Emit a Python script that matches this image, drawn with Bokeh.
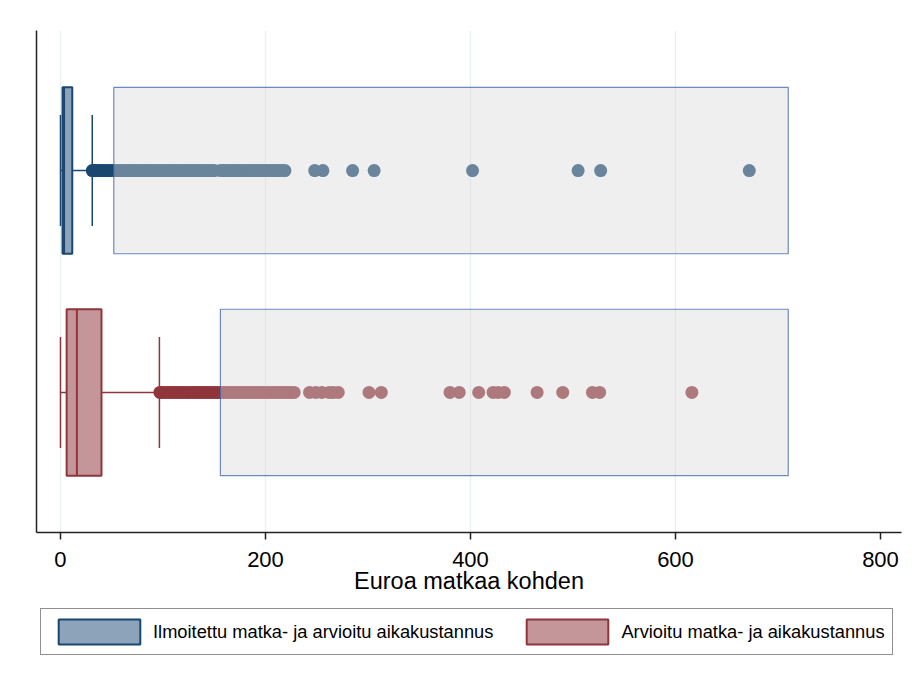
from bokeh.plotting import figure
from bokeh.models import Range1d, FixedTicker, Legend, LegendItem, ColumnDataSource
from bokeh.layouts import column
from bokeh.embed import file_html
from bokeh.resources import INLINE

# ---------------- data ----------------
groups = ["Ilmoitettu matka- ja arvioitu aikakustannus", "Arvioitu matka- ja aikakustannus"]
group_pos = [1, 0]
lower_whisker = [0, 0]
q1 = [2, 6]
median = [3.5, 16]
q3 = [11.5, 40]
upper_whisker = [31, 96.5]

outliers_top = [31, 33, 35, 38, 40, 43, 46, 49, 52, 55, 58, 61, 64, 67, 70, 73, 76, 79,
                82, 85, 88, 91, 94, 97, 100, 103, 106, 109, 112, 115, 118, 121, 124, 127,
                130, 133, 136, 139, 142, 145, 148, 150, 156, 159, 162, 165, 168, 171, 174,
                177, 180, 183, 186, 189, 192, 195, 198, 201, 204, 207, 210, 213, 216, 219,
                248, 256, 285, 306, 402, 505, 527, 672]
outliers_bottom = [97, 99, 102, 105, 108, 111, 114, 117, 120, 123, 126, 129, 132, 135, 138,
                   141, 144, 147, 150, 153, 156, 159, 162, 165, 168, 171, 174, 177, 180, 183,
                   186, 189, 192, 195, 198, 201, 204, 207, 210, 213, 216, 219, 222, 225, 228,
                   243, 249, 255, 262, 266, 271, 301, 313, 380, 389, 408, 422, 427, 433,
                   465, 490, 519, 526, 616]

highlight_left = [52, 156]
highlight_right = [710, 710]

x_ticks = [0, 200, 400, 600, 800]
grid_ticks = [0, 200, 400, 600]
x_title = "Euroa matkaa kohden"

dark = ["#1a476f", "#90353b"]
light = ["#8da3ba", "#c4969a"]

FONT = "Liberation Sans"
BOX_H = 0.75
CAP_H = 0.5

p = figure(frame_width=865, frame_height=502, output_backend="svg", toolbar_location=None,
           x_range=Range1d(-23.4, 820.5), y_range=Range1d(-0.631, 1.631),
           min_border_left=36, min_border_right=2, min_border_top=30, min_border_bottom=70)
p.outline_line_color = None
p.background_fill_color = "white"
p.border_fill_color = "white"

# grid
p.ygrid.visible = False
p.xgrid.ticker = FixedTicker(ticks=grid_ticks)
p.xgrid.grid_line_color = "#e6eff1"
p.xgrid.grid_line_width = 1.3

# axes
p.xaxis.ticker = FixedTicker(ticks=x_ticks)
p.xaxis.minor_tick_line_color = None
p.xaxis.major_tick_in = 0
p.xaxis.major_tick_out = 7
p.xaxis.major_tick_line_color = "#222222"
p.xaxis.major_tick_line_width = 1.5
p.xaxis.axis_line_color = "#222222"
p.xaxis.axis_line_width = 1.5
p.xaxis.major_label_text_font = FONT
p.xaxis.major_label_text_font_size = "22px"
p.xaxis.major_label_text_color = "black"
p.xaxis.major_label_standoff = 12
p.xaxis.axis_label = x_title
p.xaxis.axis_label_text_font = FONT
p.xaxis.axis_label_text_font_size = "23.5px"
p.xaxis.axis_label_text_font_style = "normal"
p.xaxis.axis_label_text_color = "black"
p.xaxis.axis_label_standoff = -2

p.yaxis.major_label_text_font_size = "0px"
p.yaxis.major_tick_line_color = None
p.yaxis.minor_tick_line_color = None
p.yaxis.axis_line_color = "#222222"
p.yaxis.axis_line_width = 1.5
p.yaxis.major_label_standoff = 0
p.yaxis.ticker = FixedTicker(ticks=[])

for i in range(2):
    c = group_pos[i]
    # whiskers
    p.segment(x0=[lower_whisker[i], q3[i]], y0=[c, c], x1=[q1[i], upper_whisker[i]], y1=[c, c],
              line_color=dark[i], line_width=1.5)
    # caps
    p.segment(x0=[lower_whisker[i], upper_whisker[i]], y0=[c - CAP_H / 2] * 2,
              x1=[lower_whisker[i], upper_whisker[i]], y1=[c + CAP_H / 2] * 2,
              line_color=dark[i], line_width=1.5)
    # box
    p.hbar(y=[c], left=[q1[i]], right=[q3[i]], height=BOX_H,
           fill_color=light[i], line_color=dark[i], line_width=2)
    # median
    p.segment(x0=[median[i]], y0=[c - BOX_H / 2], x1=[median[i]], y1=[c + BOX_H / 2],
              line_color=dark[i], line_width=2)

# outliers
p.scatter(x=outliers_top, y=[group_pos[0]] * len(outliers_top), size=13,
          fill_color=dark[0], line_color=None)
p.scatter(x=outliers_bottom, y=[group_pos[1]] * len(outliers_bottom), size=13,
          fill_color=dark[1], line_color=None)

# highlight overlay rectangles
p.quad(left=highlight_left, right=highlight_right,
       bottom=[g - BOX_H / 2 for g in group_pos], top=[g + BOX_H / 2 for g in group_pos],
       fill_color="#d8d8d8", fill_alpha=0.42, line_color="#3d64ad", line_alpha=0.75,
       line_width=1.2)

# ---------------- legend (separate strip below) ----------------
lg = figure(width=903, height=56, output_backend="svg", toolbar_location=None,
            x_axis_type=None, y_axis_type=None, min_border=0,
            x_range=Range1d(0, 1), y_range=Range1d(0, 1))
lg.outline_line_color = None
lg.grid.visible = False
lg.border_fill_color = "white"
lg.background_fill_color = "white"

nan = float("nan")
items = []
for i in range(2):
    # legend-only swatch renderer (no visible data)
    src = ColumnDataSource(dict(y=[nan], left=[nan], right=[nan]))
    r = lg.hbar(y="y", left="left", right="right", height=0.5, source=src,
                fill_color=light[i], line_color=dark[i], line_width=2)
    items.append(LegendItem(label=groups[i], renderers=[r]))

legend = Legend(items=items, orientation="horizontal", location=(4, 3))
legend.glyph_width = 102
legend.glyph_height = 31
legend.label_standoff = 3
legend.spacing = 23
legend.padding = 7
legend.margin = 0
legend.label_text_font = FONT
legend.label_text_font_size = "18.3px"
legend.label_text_color = "black"
legend.border_line_color = "#222222"
legend.border_line_width = 1
legend.background_fill_color = "white"
lg.add_layout(legend, "center")

layout = column(p, lg, spacing=0)
open("out.html", "w").write(file_html(layout, INLINE))
